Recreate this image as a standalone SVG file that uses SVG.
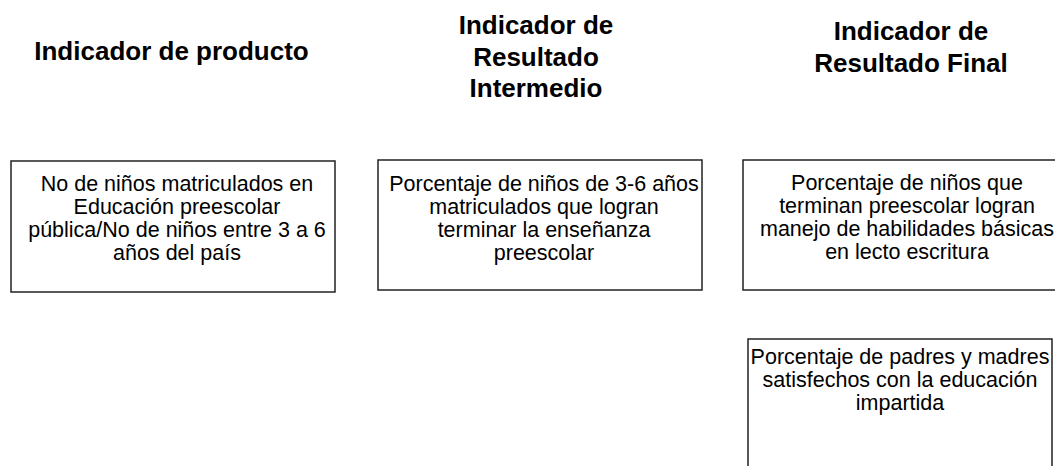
<svg xmlns="http://www.w3.org/2000/svg" width="1055" height="466" viewBox="0 0 1055 466">
<style>
.h{font-family:"Liberation Sans",Arial,sans-serif;font-weight:bold;font-size:26px;fill:#000;text-anchor:middle}
.t{font-family:"Liberation Sans",Arial,sans-serif;font-size:21.5px;fill:#000;text-anchor:middle}
.b{fill:#fff;stroke:#222;stroke-width:1.5}
</style>
<rect width="1055" height="466" fill="#fff"/>
<g id="heading-producto"><text class="h" x="171.5" y="60">Indicador de producto</text></g>
<g id="heading-intermedio"><text class="h" x="536" y="34">Indicador de</text><text class="h" x="536" y="65.5">Resultado</text><text class="h" x="536" y="97">Intermedio</text></g>
<g id="heading-final"><text class="h" x="911" y="40">Indicador de</text><text class="h" x="911" y="71.5">Resultado Final</text></g>
<g id="node-producto"><rect class="b" x="11" y="161" width="324" height="131"/>
<text class="t" x="177" y="191">No de niños matriculados en</text><text class="t" x="177" y="214">Educación preescolar</text><text class="t" x="177" y="237">pública/No de niños entre 3 a 6</text><text class="t" x="177" y="260">años del país</text></g>
<g id="node-intermedio"><rect class="b" x="378" y="160" width="324" height="130"/>
<text class="t" x="544" y="191">Porcentaje de niños de 3-6 años</text><text class="t" x="544" y="214">matriculados que logran</text><text class="t" x="544" y="237">terminar la enseñanza</text><text class="t" x="544" y="260">preescolar</text></g>
<g id="node-final-1"><rect class="b" x="743" y="160" width="330" height="130"/>
<text class="t" x="907" y="190">Porcentaje de niños que</text><text class="t" x="907" y="213">terminan preescolar logran</text><text class="t" x="907" y="236">manejo de habilidades básicas</text><text class="t" x="907" y="259">en lecto escritura</text></g>
<g id="node-final-2"><rect class="b" x="748" y="339" width="304" height="140"/>
<text class="t" x="900" y="364">Porcentaje de padres y madres</text><text class="t" x="900" y="387">satisfechos con la educación</text><text class="t" x="900" y="410">impartida</text></g>
<g id="connectors"></g>
</svg>
